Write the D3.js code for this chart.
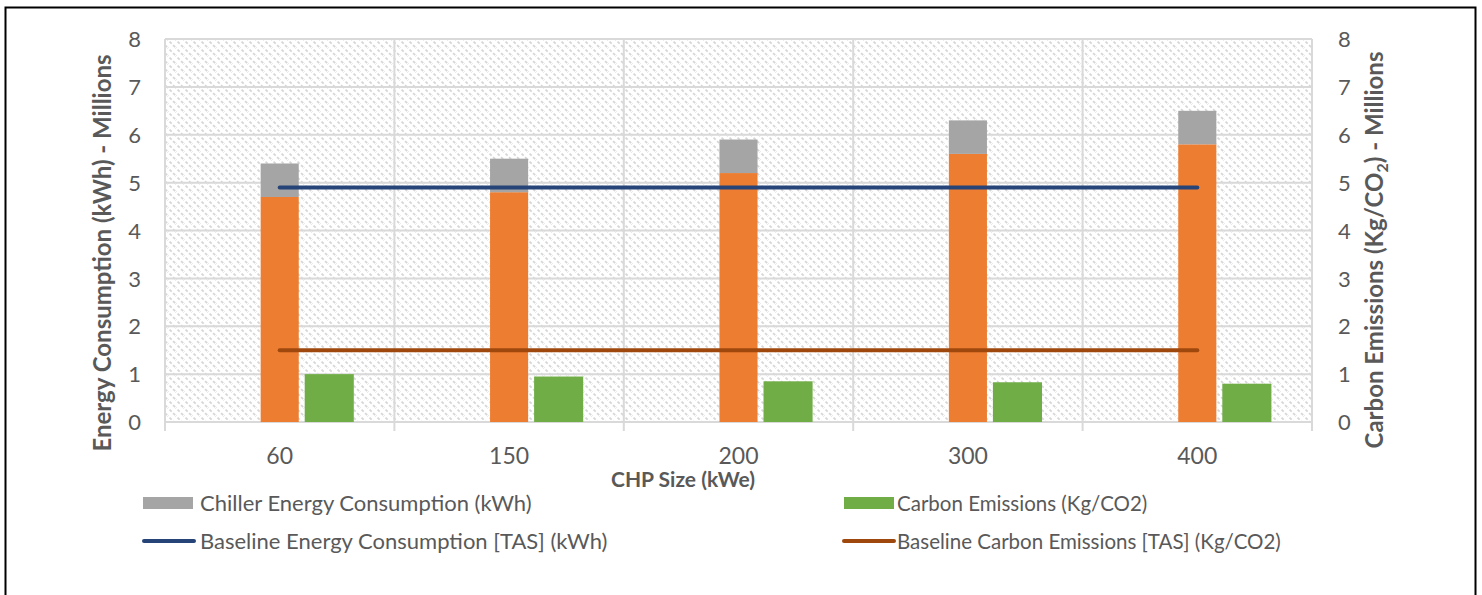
<!DOCTYPE html>
<html>
<head>
<meta charset="utf-8">
<script src="https://cdn.jsdelivr.net/npm/d3@7"></script>
<style>
  html, body { margin: 0; padding: 0; background: #fff; }
  svg { display: block; }
  text { font-family: "Lato", "Open Sans", "Liberation Sans", sans-serif; fill: #595959; }
</style>
</head>
<body>
<svg id="chart" width="1482" height="595"></svg>
<script>
// ---- data ----
const categories = ["60", "150", "200", "300", "400"];
const chpEnergy = [4.7, 4.8, 5.2, 5.6, 5.8];          // orange (stack bottom)
const chillerEnergy = [0.7, 0.7, 0.7, 0.7, 0.7];      // grey (stack top)
const carbonEmissions = [1.0, 0.95, 0.85, 0.83, 0.8]; // green (secondary axis)
const baselineEnergy = [4.9, 4.9, 4.9, 4.9, 4.9];     // blue line
const baselineCarbon = [1.5, 1.5, 1.5, 1.5, 1.5];     // brown line (secondary axis)
const yTicks = [0, 1, 2, 3, 4, 5, 6, 7, 8];
const legendLabels = [
  "Chiller Energy Consumption (kWh)",
  "Carbon Emissions (Kg/CO2)",
  "Baseline Energy Consumption [TAS] (kWh)",
  "Baseline Carbon Emissions [TAS] (Kg/CO2)"
];

const colors = {
  chp: "#ed7d31", chiller: "#a5a5a5", carbon: "#70ad47",
  baseE: "#264478", baseC: "#9e480e", grid: "#d9d9d9"
};

const svg = d3.select("#chart");
const plot = { left: 165, right: 1312, top: 39, bottom: 422 };

// outer frame
svg.append("rect").attr("x", 5.5).attr("y", 7.5).attr("width", 1470).attr("height", 600)
  .attr("fill", "none").attr("stroke", "#000").attr("stroke-width", 2);

// hatch pattern
const defs = svg.append("defs");
const pat = defs.append("pattern").attr("id", "hatch").attr("patternUnits", "userSpaceOnUse")
  .attr("width", 8).attr("height", 8);
pat.append("rect").attr("width", 8).attr("height", 8).attr("fill", "#fff");
pat.append("path").attr("d", "M-2,-2 L10,10 M-2,6 L2,10 M6,-2 L10,2")
  .attr("stroke", "#d6d6d6").attr("stroke-width", 1.7).attr("stroke-dasharray", "3,2");

const x = d3.scaleBand().domain(categories).range([plot.left, plot.right]).padding(0);
const y = d3.scaleLinear().domain([0, 8]).range([plot.bottom, plot.top]);
const y2 = d3.scaleLinear().domain([0, 8]).range([plot.bottom, plot.top]);
const bw = x.bandwidth();
const stackW = bw * 0.166, carbonW = bw * 0.214, gap = bw * 0.026;
const cx = c => x(c) + bw / 2;

// plot background
svg.append("rect").attr("x", plot.left).attr("y", plot.top)
  .attr("width", plot.right - plot.left).attr("height", plot.bottom - plot.top)
  .attr("fill", "url(#hatch)");

// gridlines
svg.append("g").selectAll("line").data(yTicks).join("line")
  .attr("x1", plot.left).attr("x2", plot.right)
  .attr("y1", d => y(d)).attr("y2", d => y(d))
  .attr("stroke", colors.grid).attr("stroke-width", 2);
const bounds = categories.map(c => x(c)).concat([plot.right]);
svg.append("g").selectAll("line").data(bounds).join("line")
  .attr("x1", d => d).attr("x2", d => d)
  .attr("y1", plot.top).attr("y2", plot.bottom + 9)
  .attr("stroke", colors.grid).attr("stroke-width", 2);

// stacked bars
const stackData = categories.map((c, i) => ({ c, chp: chpEnergy[i], chiller: chillerEnergy[i] }));
const stack = d3.stack().keys(["chp", "chiller"])(stackData);
svg.append("g").selectAll("g").data(stack).join("g")
  .attr("fill", d => d.key === "chp" ? colors.chp : colors.chiller)
  .selectAll("rect").data(d => d).join("rect")
  .attr("x", d => cx(d.data.c) - stackW / 2).attr("width", stackW)
  .attr("y", d => y(d[1])).attr("height", d => y(d[0]) - y(d[1]));

// carbon bars
svg.append("g").selectAll("rect").data(categories).join("rect")
  .attr("x", c => cx(c) + stackW / 2 + gap).attr("width", carbonW)
  .attr("y", (c, i) => y2(carbonEmissions[i]))
  .attr("height", (c, i) => y2(0) - y2(carbonEmissions[i]))
  .attr("fill", colors.carbon);

// lines
const lineE = d3.line().x((d, i) => cx(categories[i])).y(d => y(d));
const lineC = d3.line().x((d, i) => cx(categories[i])).y(d => y2(d));
svg.append("path").attr("d", lineC(baselineCarbon)).attr("fill", "none")
  .attr("stroke", colors.baseC).attr("stroke-width", 4).attr("stroke-linecap", "round");
svg.append("path").attr("d", lineE(baselineEnergy)).attr("fill", "none")
  .attr("stroke", colors.baseE).attr("stroke-width", 4).attr("stroke-linecap", "round");

// axes (labels only)
const yAxisL = d3.axisLeft(y).tickValues(yTicks).tickSize(0).tickPadding(0);
const gL = svg.append("g").attr("transform", `translate(${plot.left - 24},0)`).call(yAxisL);
gL.select(".domain").remove();
gL.selectAll("text").style("font-size", "22px").attr("fill", "#595959").attr("dy", "0.35em");

const yAxisR = d3.axisRight(y2).tickValues(yTicks).tickSize(0).tickPadding(0);
const gR = svg.append("g").attr("transform", `translate(${plot.right + 26},0)`).call(yAxisR);
gR.select(".domain").remove();
gR.selectAll("text").style("font-size", "22px").attr("fill", "#595959").attr("dy", "0.35em");

const xAxis = d3.axisBottom(x).tickSize(0).tickPadding(0);
const gX = svg.append("g").attr("transform", `translate(0,${plot.bottom + 42})`).call(xAxis);
gX.select(".domain").remove();
gX.selectAll("text").style("font-size", "23px").attr("fill", "#595959").attr("dy", "0");

// axis titles
svg.append("text").attr("x", 683).attr("y", 487).attr("text-anchor", "middle")
  .style("font-size", "21px").style("font-weight", "bold").text("CHP Size (kWe)");
svg.append("text").attr("transform", "translate(111,253) rotate(-90)").attr("text-anchor", "middle")
  .style("font-size", "24px").style("font-weight", "bold").text("Energy Consumption (kWh) - Millions");
const rt = svg.append("text").attr("transform", "translate(1383,250) rotate(-90)").attr("text-anchor", "middle")
  .style("font-size", "24px").style("font-weight", "bold");
rt.append("tspan").text("Carbon Emissions (Kg/CO");
rt.append("tspan").attr("dy", 5).style("font-size", "16px").text("2");
rt.append("tspan").attr("dy", -5).text(") - Millions");

// legend
const leg = [
  { type: "rect", color: colors.chiller, x: 143, y: 503, tx: 200, fs: 22 },
  { type: "rect", color: colors.carbon, x: 844, y: 503, tx: 897, fs: 20.5 },
  { type: "line", color: colors.baseE, x: 143, y: 541, tx: 200, fs: 22 },
  { type: "line", color: colors.baseC, x: 843, y: 541, tx: 897, fs: 20.5 }
];
leg.forEach((l, i) => {
  if (l.type === "rect") {
    svg.append("rect").attr("x", l.x).attr("y", l.y - 6).attr("width", 50).attr("height", 12).attr("fill", l.color);
  } else {
    svg.append("line").attr("x1", l.x + 1).attr("x2", l.x + 51).attr("y1", l.y).attr("y2", l.y)
      .attr("stroke", l.color).attr("stroke-width", 4).attr("stroke-linecap", "round");
  }
  svg.append("text").attr("x", l.tx).attr("y", l.y + 7.5).style("font-size", l.fs + "px").text(legendLabels[i]);
});
</script>
</body>
</html>
